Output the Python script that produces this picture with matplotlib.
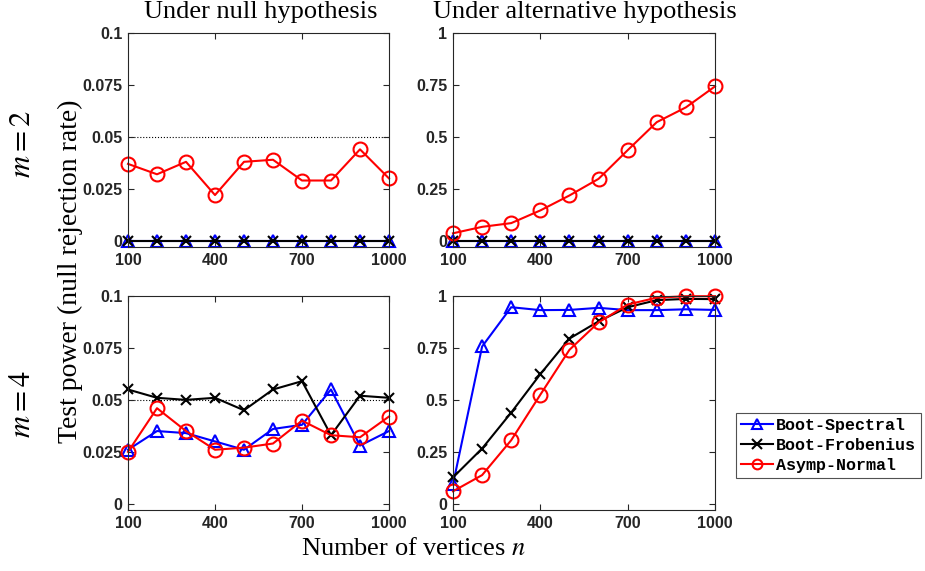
import numpy as np
import matplotlib
matplotlib.use("Agg")
import matplotlib.pyplot as plt

plt.rcParams['mathtext.fontset'] = 'stix'

# vertex counts
n_vals = [100, 200, 300, 400, 500, 600, 700, 800, 900, 1000]

# m = 2, null
null2_spectral = [0, 0, 0, 0, 0, 0, 0, 0, 0, 0]
null2_frobenius = [0, 0, 0, 0, 0, 0, 0, 0, 0, 0]
null2_normal = [0.037, 0.032, 0.038, 0.022, 0.038, 0.039, 0.029, 0.029, 0.044, 0.030]

# m = 2, alternative
alt2_spectral = [0, 0, 0, 0, 0, 0, 0, 0, 0, 0]
alt2_frobenius = [0, 0, 0, 0, 0, 0, 0, 0, 0, 0]
alt2_normal = [0.036, 0.067, 0.085, 0.146, 0.218, 0.298, 0.436, 0.571, 0.642, 0.743]

# m = 4, null
null4_spectral = [0.026, 0.035, 0.034, 0.030, 0.026, 0.036, 0.038, 0.055, 0.028, 0.035]
null4_frobenius = [0.055, 0.051, 0.050, 0.051, 0.045, 0.055, 0.059, 0.033, 0.052, 0.051]
null4_normal = [0.025, 0.046, 0.035, 0.026, 0.027, 0.029, 0.040, 0.033, 0.032, 0.042]

# m = 4, alternative
alt4_spectral = [0.094, 0.757, 0.946, 0.932, 0.933, 0.943, 0.932, 0.932, 0.936, 0.933]
alt4_frobenius = [0.127, 0.266, 0.439, 0.624, 0.795, 0.878, 0.946, 0.980, 0.986, 0.985]
alt4_normal = [0.060, 0.138, 0.306, 0.525, 0.741, 0.873, 0.959, 0.992, 0.999, 0.999]

method_names = ['Boot-Spectral', 'Boot-Frobenius', 'Asymp-Normal']

panels = [
    (null2_spectral, null2_frobenius, null2_normal, 'null'),
    (alt2_spectral, alt2_frobenius, alt2_normal, 'alt'),
    (null4_spectral, null4_frobenius, null4_normal, 'null'),
    (alt4_spectral, alt4_frobenius, alt4_normal, 'alt'),
]

W, H = 925, 571
fig = plt.figure(figsize=(W / 100, H / 100), dpi=100)

# axes positions in pixels: left, right, top, bottom
boxes = [
    (128, 389, 33, 247),
    (453, 715, 33, 247),
    (128, 389, 296, 510),
    (453, 715, 296, 510),
]

frame_c = '#262626'

lines = None
for (sp, fr, nm, kind), (l, r, t, b) in zip(panels, boxes):
    ax = fig.add_axes([l / W, 1 - b / H, (r - l) / W, (b - t) / H])
    h1, = ax.plot(n_vals, sp, '-^', color='blue', lw=1.5, ms=9, mfc='none', mew=1.5,
                  label=method_names[0])
    h2, = ax.plot(n_vals, fr, '-x', color='black', lw=1.5, ms=7, mew=1.5,
                  label=method_names[1])
    h3, = ax.plot(n_vals, nm, '-o', color='red', lw=1.5, ms=10, mfc='none', mew=1.5,
                  label=method_names[2])
    lines = [h1, h2, h3]
    if kind == 'null':
        ax.axhline(0.05, color='black', ls=':', lw=0.8, zorder=0)
        ax.set_ylim(-0.003, 0.1)
        ax.set_yticks([0, 0.025, 0.05, 0.075, 0.1])
        ax.set_yticklabels(['0', '0.025', '0.05', '0.075', '0.1'])
    else:
        ax.set_ylim(-0.03, 1)
        ax.set_yticks([0, 0.25, 0.5, 0.75, 1])
        ax.set_yticklabels(['0', '0.25', '0.5', '0.75', '1'])
    ax.set_xlim(100, 1000)
    ax.set_xticks([100, 400, 700, 1000])
    ax.tick_params(direction='in', top=True, right=True, length=4, width=0.8,
                   colors=frame_c, pad=4)
    for lab in ax.get_xticklabels() + ax.get_yticklabels():
        lab.set_fontfamily('Liberation Sans')
        lab.set_fontweight('bold')
        lab.set_fontsize(11.5)
    for s in ax.spines.values():
        s.set_color(frame_c)
        s.set_linewidth(0.8)
    for h in lines:
        h.set_clip_on(False)

serif = 'Liberation Serif'
fig.text(261 / W, 1 - 12 / H, 'Under null hypothesis', ha='center', va='center',
         family=serif, fontsize=19)
fig.text(585 / W, 1 - 12 / H, 'Under alternative hypothesis', ha='center', va='center',
         family=serif, fontsize=19)
fig.text(413 / W, 1 - 549 / H, r'Number of vertices $n$', ha='center', va='center',
         family=serif, fontsize=19)
fig.text(70 / W, 1 - 271 / H, 'Test power (null rejection rate)', ha='center', va='center',
         rotation=90, family=serif, fontsize=20)
fig.text(22 / W, 1 - 144 / H, r'$m = 2$', ha='center', va='center', rotation=90, fontsize=22)
fig.text(22 / W, 1 - 404 / H, r'$m = 4$', ha='center', va='center', rotation=90, fontsize=22)

leg = fig.legend(lines, method_names, loc='upper left',
                 bbox_to_anchor=(736 / W, 1 - 413 / H), frameon=True, fancybox=False,
                 prop={'family': 'Liberation Mono', 'weight': 'bold', 'size': 12},
                 handlelength=1.9, handletextpad=0.2, borderpad=0.3, labelspacing=0.3,
                 borderaxespad=0)
leg.get_frame().set_edgecolor(frame_c)
leg.get_frame().set_linewidth(0.8)
for h in leg.legend_handles:
    h.set_markersize(7)

fig.savefig('out.png', dpi=100)
